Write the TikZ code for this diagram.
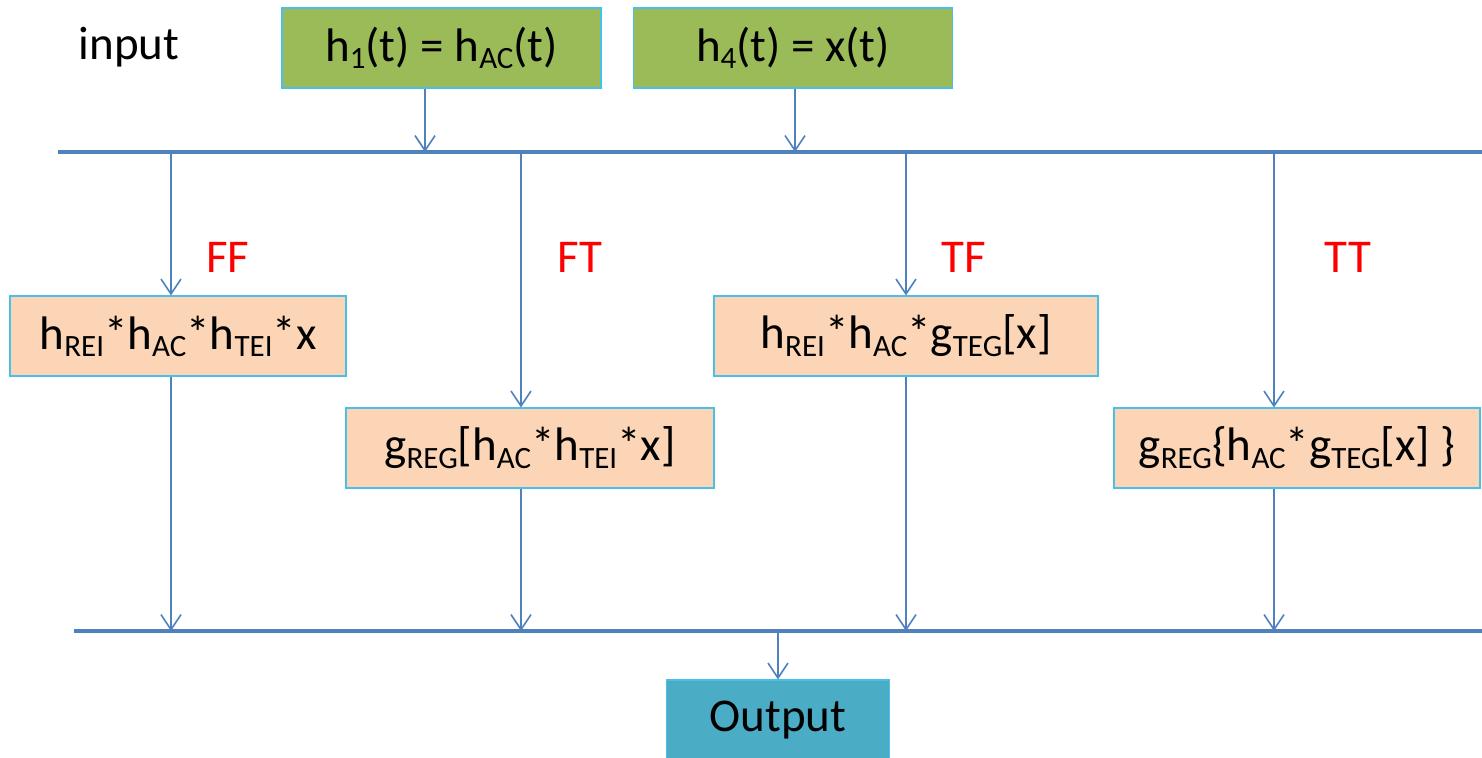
\documentclass[tikz,border=0pt]{standalone}
\usepackage{fontspec}
\setmainfont{Carlito}
\usetikzlibrary{arrows.meta,positioning}
\definecolor{ingreen}{HTML}{9BBB59}
\definecolor{opfill}{HTML}{FBD5B5}
\definecolor{outfill}{HTML}{4BACC6}
\definecolor{edgeblue}{HTML}{4BBFE8}
\definecolor{wire}{HTML}{4F81BD}
\newcommand\lo[1]{\raisebox{-0.32ex}{\fontsize{15.5}{16}\selectfont #1}}

\begin{document}
\begin{tikzpicture}[x=0.5pt,y=-0.5pt,
    font=\fontsize{23.5}{28}\selectfont,
    box/.style={draw=edgeblue,line width=0.6pt,inner sep=0pt,
                minimum height=40pt},
    inbox/.style={box,fill=ingreen,minimum width=159.5pt},
    opbox/.style={box,fill=opfill},
    outbox/.style={box,fill=outfill,minimum width=111.5pt},
    lbl/.style={text=red},
    bus/.style={wire,line width=2pt},
    feed/.style={wire,line width=0.8pt,
                 -{Straight Barb[length=7.5pt,width=10pt,line width=0.8pt]}}]
  \useasboundingbox (0,0) rectangle (1482,757);

  % inputs
  \node (inlbl) at (129,47) {input};
  \node[inbox] (in1) at (441.5,48) {h\lo{1}(t) = h\lo{AC}(t)};
  \node[inbox] (in2) at (793,48) {h\lo{4}(t) = x(t)};

  % buses
  \coordinate (tl) at (58,152);
  \coordinate (tr) at (1482,152);
  \coordinate (bl) at (74,631);
  \coordinate (br) at (1482,631);
  \draw[bus] (tl) -- (tr);
  \draw[bus] (bl) -- (br);

  \coordinate (t1) at (425,152);
  \coordinate (t2) at (795,152);
  \draw[feed] (in1.south -| t1) -- (t1);
  \draw[feed] (in2.south -| t2) -- (t2);

  % the four branches
  \node[opbox,minimum width=168pt] (ff) at (178,336)
    {h\lo{REI}*h\lo{AC}*h\lo{TEI}*x};
  \node[opbox,minimum width=184pt] (ft) at (530,448)
    {g\lo{REG}[h\lo{AC}*h\lo{TEI}*x]};
  \node[opbox,minimum width=192pt] (tf) at (906,336)
    {h\lo{REI}*h\lo{AC}*g\lo{TEG}[x]};
  \node[opbox,minimum width=183pt] (tt) at (1297,448)
    {g\lo{REG}\{h\lo{AC}*g\lo{TEG}[x] \}};

  \node[lbl] (lff) at (228,257) {FF};
  \node[lbl] (lft) at (580,257) {FT};
  \node[lbl] (ltf) at (964,257) {TF};
  \node[lbl] (ltt) at (1348,257) {TT};

  \foreach \b/\x in {ff/171,ft/521,tf/906,tt/1274}{
    \coordinate (u\b) at (\x,152);
    \coordinate (d\b) at (\x,631);
    \draw[feed] (u\b) -- (\b.north -| u\b);
    \draw[feed] (\b.south -| d\b) -- (d\b);
  }

  % output
  \node[outbox] (out) at (778,720) {Output};
  \coordinate (o) at (778,631);
  \draw[feed] (o) -- (out.north);
\end{tikzpicture}
\end{document}
